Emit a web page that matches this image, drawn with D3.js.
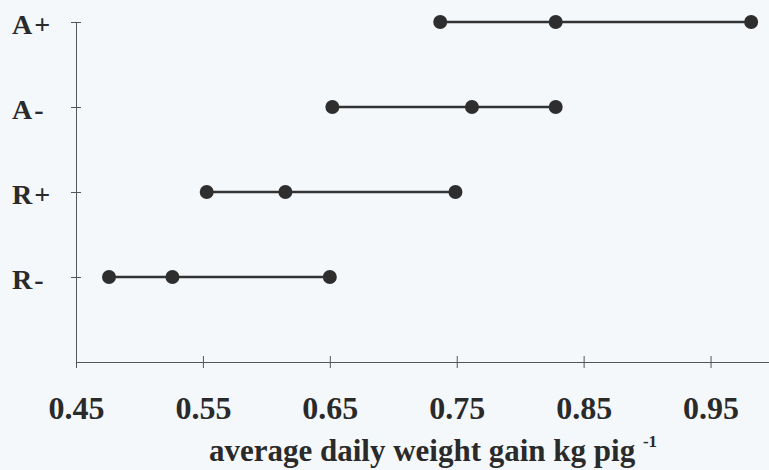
<!DOCTYPE html>
<html>
<head>
<meta charset="utf-8">
<script src="https://cdn.jsdelivr.net/npm/d3@7"></script>
<style>
  html, body { margin: 0; padding: 0; background: #f5f8fb; }
  svg { display: block; }
  .axis path, .axis line { stroke: #555; stroke-width: 1; }
  .axis text { fill: #2a2a2a; font-weight: bold; }
</style>
</head>
<body>
<svg id="chart"></svg>
<script>
const width = 769;
const height = 470;
const serif = "'Liberation Serif', 'Times New Roman', serif";

// treatments, bottom to top
const categories = ['R-', 'R+', 'A-', 'A+'];
// three gains per treatment (kg/pig/day)
const gainsRminus = [0.476, 0.526, 0.650];
const gainsRplus = [0.553, 0.615, 0.749];
const gainsAminus = [0.652, 0.762, 0.828];
const gainsAplus = [0.737, 0.828, 0.982];
const xTicks = [0.45, 0.55, 0.65, 0.75, 0.85, 0.95];

const series = [gainsRminus, gainsRplus, gainsAminus, gainsAplus];

const svg = d3
  .select('#chart')
  .attr('width', width)
  .attr('height', height)
  .attr('font-family', serif);

const x = d3.scaleLinear().domain([0.45, 1.0]).range([76, 774]);
const y = d3.scaleLinear().domain([0, 4]).range([362, 22]);

const xAxis = svg
  .append('g')
  .attr('class', 'axis x')
  .attr('transform', `translate(0, ${y(0)})`)
  .call(
    d3.axisBottom(x)
      .tickValues(xTicks)
      .tickSizeOuter(0)
      .tickSizeInner(6)
      .tickFormat(d3.format('.2f'))
  )
  .attr('font-family', serif);
xAxis.selectAll('.tick line').attr('y1', -6).attr('y2', 6);
xAxis
  .selectAll('.tick text')
  .attr('y', 57)
  .attr('dy', 0)
  .style('font-size', '32px');

const yAxis = svg
  .append('g')
  .attr('class', 'axis y')
  .attr('transform', `translate(${x(0.45)}, 0)`)
  .call(
    d3.axisLeft(y)
      .tickValues([1, 2, 3, 4])
      .tickSizeOuter(0)
      .tickFormat(d => categories[d - 1])
  )
  .attr('font-family', serif);
yAxis.selectAll('.tick line').attr('x1', -5).attr('x2', 5);
yAxis
  .selectAll('.tick text')
  .attr('x', -64)
  .attr('dy', 11)
  .attr('text-anchor', 'start')
  .attr('letter-spacing', 2)
  .style('font-size', '28px');

const rows = svg
  .append('g')
  .selectAll('g.row')
  .data(series)
  .join('g')
  .attr('class', 'row')
  .attr('transform', (_d, i) => `translate(0, ${y(i + 1)})`);

rows
  .append('line')
  .attr('x1', d => x(d3.min(d)))
  .attr('x2', d => x(d3.max(d)))
  .attr('stroke', '#333')
  .attr('stroke-width', 2.5);

rows
  .selectAll('circle')
  .data(d => d)
  .join('circle')
  .attr('cx', d => x(d))
  .attr('cy', 0)
  .attr('r', 7)
  .attr('fill', '#2e2e2e');

const title = svg
  .append('text')
  .attr('x', 433)
  .attr('y', 461)
  .attr('text-anchor', 'middle')
  .attr('fill', '#2a2a2a')
  .style('font-weight', 'bold')
  .style('font-size', '31px');
title.append('tspan').text('average daily weight gain kg pig ');
title
  .append('tspan')
  .attr('dy', -14)
  .style('font-size', '17px')
  .text('-1');
</script>
</body>
</html>
